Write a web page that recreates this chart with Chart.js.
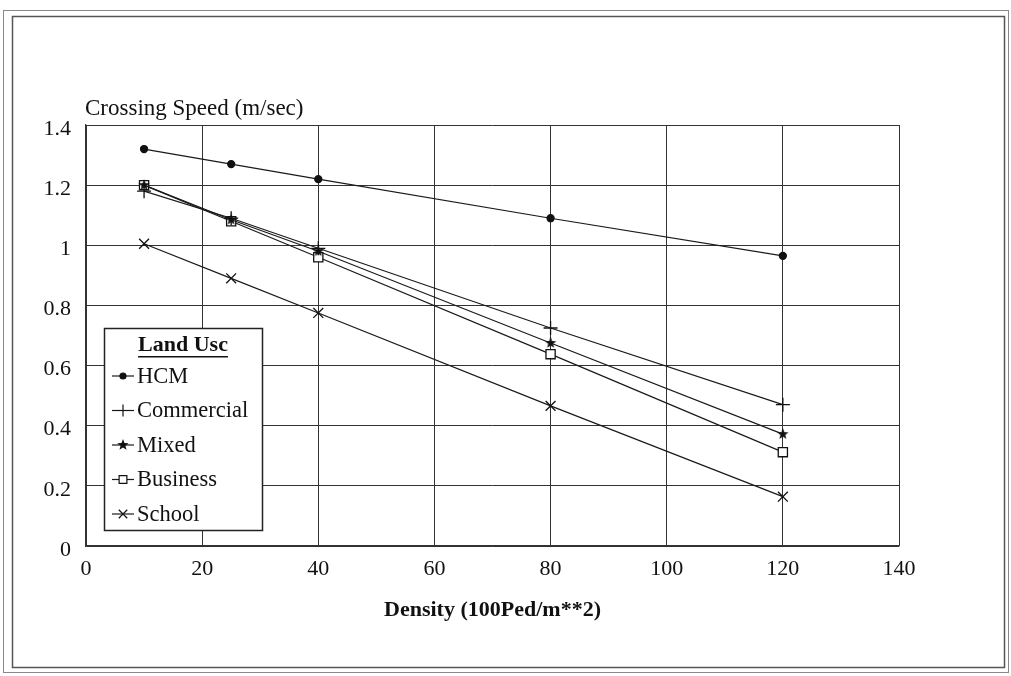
<!DOCTYPE html>
<html>
<head>
<meta charset="utf-8">
<script src="https://cdn.jsdelivr.net/npm/chart.js@4.4.0/dist/chart.umd.min.js"></script>
<style>
  html, body { margin: 0; padding: 0; background: #fff; }
  #wrap { width: 1011px; height: 676px; }
</style>
</head>
<body>
<div id="wrap"><canvas id="grafico" width="1011" height="676"></canvas></div>
<script>
// Datos
const densidades = [10, 25, 40, 80, 120];
const hcm = [1.32, 1.27, 1.22, 1.09, 0.965];
const commercial = [1.18, 1.09, 0.99, 0.725, 0.47];
const mixed = [1.2, 1.085, 0.98, 0.675, 0.372];
const business = [1.2, 1.08, 0.96, 0.638, 0.312];
const school = [1.005, 0.89, 0.775, 0.466, 0.164];

const seriesNames = ['HCM', 'Commercial', 'Mixed', 'Business', 'School'];
const xTicks = [0, 20, 40, 60, 80, 100, 120, 140];
const yTicks = [0, 0.2, 0.4, 0.6, 0.8, 1, 1.2, 1.4];

const fuente = '"Liberation Serif", "Times New Roman", serif';

// Estrella rellena para "Mixed"
function crearEstrella(r) {
    const c = document.createElement('canvas');
    const s = Math.ceil(r * 2 + 2);
    c.width = s; c.height = s;
    const g = c.getContext('2d');
    g.fillStyle = '#111';
    g.beginPath();
    for (let i = 0; i < 10; i++) {
        const rad = i % 2 === 0 ? r : r * 0.42;
        const a = -Math.PI / 2 + i * Math.PI / 5;
        const px = s / 2 + rad * Math.cos(a);
        const py = s / 2 + rad * Math.sin(a);
        if (i === 0) g.moveTo(px, py); else g.lineTo(px, py);
    }
    g.closePath();
    g.fill();
    return c;
}
const estrella = crearEstrella(6);

const estilos = [
    { pointStyle: 'circle', radius: 3.5, bg: '#111' },
    { pointStyle: 'cross', radius: 7, bg: '#111' },
    { pointStyle: estrella, radius: 6, bg: '#111' },
    { pointStyle: 'rect', radius: 6.5, bg: '#fff' },
    { pointStyle: 'crossRot', radius: 7, bg: '#111' }
];

const valores = [hcm, commercial, mixed, business, school];

const datasets = valores.map((serie, i) => ({
    label: seriesNames[i],
    data: serie.map((v, j) => ({ x: densidades[j], y: v })),
    borderColor: '#1a1a1a',
    borderWidth: 1.2,
    pointStyle: estilos[i].pointStyle,
    pointRadius: estilos[i].radius,
    pointBackgroundColor: estilos[i].bg,
    pointBorderColor: '#111',
    pointBorderWidth: 1.3,
    fill: false,
    tension: 0
}));

// Marco, título del eje Y y leyenda dibujada dentro del área
const decoracion = {
    id: 'decoracion',
    beforeDraw(chart) {
        const ctx = chart.ctx;
        ctx.save();
        ctx.fillStyle = '#fff';
        ctx.fillRect(0, 0, chart.width, chart.height);
        ctx.strokeStyle = '#888';
        ctx.lineWidth = 1;
        ctx.strokeRect(3.5, 10.5, 1005, 662);
        ctx.strokeStyle = '#555';
        ctx.lineWidth = 1.5;
        ctx.strokeRect(12.5, 16.5, 992, 651);
        ctx.restore();
    },
    afterDatasetsDraw(chart) {
        const ctx = chart.ctx;
        ctx.save();
        // título del eje Y
        ctx.fillStyle = '#111';
        ctx.font = '23px ' + fuente;
        ctx.textAlign = 'left';
        ctx.textBaseline = 'middle';
        ctx.fillText('Crossing Speed (m/sec)', 85, 109);

        // caja de leyenda
        const bx = 104, by = 328, bw = 158, bh = 202;
        ctx.fillStyle = '#fff';
        ctx.fillRect(bx, by, bw, bh);
        ctx.strokeStyle = '#222';
        ctx.lineWidth = 1.5;
        ctx.strokeRect(bx + 0.5, by + 0.5, bw, bh);

        ctx.fillStyle = '#111';
        ctx.font = 'bold 22px ' + fuente;
        ctx.textAlign = 'center';
        const titulo = 'Land Usc';
        ctx.fillText(titulo, bx + bw / 2, 345);
        const tw = ctx.measureText(titulo).width;
        ctx.fillRect(bx + bw / 2 - tw / 2, 356, tw, 1.5);

        ctx.font = '22.5px ' + fuente;
        ctx.textAlign = 'left';
        chart.data.datasets.forEach((ds, i) => {
            const y = 376 + i * 34.5;
            ctx.strokeStyle = '#1a1a1a';
            ctx.lineWidth = 1.2;
            ctx.beginPath();
            ctx.moveTo(112, y);
            ctx.lineTo(134, y);
            ctx.stroke();
            ctx.fillStyle = estilos[i].bg;
            ctx.strokeStyle = '#111';
            Chart.helpers.drawPoint(ctx, {
                pointStyle: estilos[i].pointStyle,
                radius: i === 0 ? 3 : estilos[i].radius - 1,
                rotation: 0,
                borderWidth: 1.3
            }, 123, y);
            ctx.fillStyle = '#111';
            ctx.fillText(ds.label, 137, y + 1);
        });
        ctx.restore();
    }
};

new Chart(document.getElementById('grafico'), {
    type: 'line',
    data: { datasets: datasets },
    options: {
        responsive: false,
        animation: false,
        devicePixelRatio: 1,
        layout: { padding: { left: 0, top: 125, right: 112, bottom: 50 } },
        plugins: {
            legend: { display: false },
            tooltip: { enabled: false }
        },
        scales: {
            x: {
                type: 'linear',
                min: 0,
                max: 140,
                afterBuildTicks: (scale) => { scale.ticks = xTicks.map(v => ({ value: v })); },
                afterFit: (scale) => { scale.height = 80; },
                grid: { color: '#333', lineWidth: 1, drawTicks: false },
                border: { color: '#333', width: 1.2 },
                ticks: {
                    color: '#111',
                    padding: 10,
                    font: { family: fuente, size: 22 }
                },
                title: {
                    display: true,
                    text: 'Density (100Ped/m**2)',
                    color: '#111',
                    font: { family: fuente, size: 22, weight: 'bold' },
                    padding: { top: 4, bottom: 2 }
                }
            },
            y: {
                min: 0,
                max: 1.4,
                afterBuildTicks: (scale) => { scale.ticks = yTicks.map(v => ({ value: v })); },
                afterFit: (scale) => { scale.width = 86; },
                grid: { color: '#333', lineWidth: 1, drawTicks: false },
                border: { color: '#333', width: 1.2 },
                ticks: {
                    color: '#111',
                    padding: 15,
                    labelOffset: 4,
                    font: { family: fuente, size: 22 },
                    callback: (v) => String(Math.round(v * 10) / 10)
                }
            }
        }
    },
    plugins: [decoracion]
});
</script>
</body>
</html>
